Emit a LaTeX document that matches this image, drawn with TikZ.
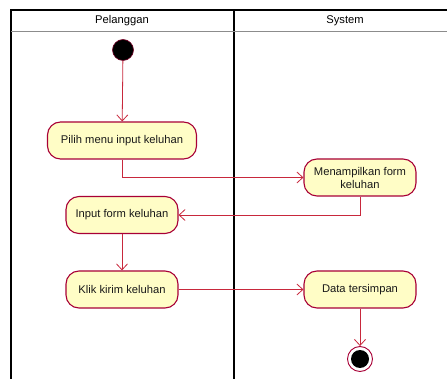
\documentclass[tikz,border=0pt]{standalone}
\usepackage{fontspec}
\setmainfont{Liberation Sans}
\usetikzlibrary{arrows.meta}
\definecolor{actfill}{HTML}{FFFDC6}
\definecolor{actline}{HTML}{A80036}
\definecolor{flow}{HTML}{C8283C}
\tikzset{
  action/.style={draw=actline, fill=actfill, line width=1.1pt, rounded corners=13pt,
    minimum height=37pt, align=center, inner sep=2pt, font=\fontsize{11.2}{13}\selectfont,
    text=black!90},
  flowline/.style={draw=flow, line width=0.8pt, -{Straight Barb[length=6pt,width=11pt,line width=0.8pt]}},
  lanehead/.style={font=\fontsize{11.2}{13}\selectfont, text=black}
}
\begin{document}
\begin{tikzpicture}[x=1pt, y=-1pt]
  \useasboundingbox (0,0) rectangle (447,379);
  % swimlane frame
  \draw[black, line width=1.1pt] (11,379) -- (11,10) -- (447,10);
  \draw[black, line width=1.1pt] (234,10) -- (234,379);
  \draw[black!45, line width=1.6pt] (11,31.5) -- (447,31.5);
  \node[lanehead] (hp) at (122,20.5) {Pelanggan};
  \node[lanehead] (hs) at (345,20.5) {System};
  % start and end
  \node[circle, fill=black, draw=actline!70!black, line width=0.6pt, minimum size=21pt, inner sep=0pt] (start) at (123,50) {};
  \node[circle, draw=actline, fill=white, line width=0.9pt, minimum size=25pt, inner sep=0pt] (stop) at (360,359) {};
  \node[circle, fill=black, minimum size=18pt, inner sep=0pt] (stopdot) at (stop) {};
  % actions
  \node[action, minimum width=149pt] (pilih) at (122,140.5) {Pilih menu input keluhan};
  \node[action, minimum width=112pt] (tampil) at (360,177.5) {Menampilkan form\\keluhan};
  \node[action, minimum width=112pt] (input) at (122,215) {Input form keluhan};
  \node[action, minimum width=112pt] (klik) at (122,289.5) {Klik kirim keluhan};
  \node[action, minimum width=112pt] (simpan) at (360,289.5) {Data tersimpan};
  % flows
  \draw[flowline] (start) -- (pilih);
  \draw[flowline] (pilih.south) |- (tampil.west);
  \draw[flowline] (tampil.south) |- (input.east);
  \draw[flowline] (input) -- (klik);
  \draw[flowline] (klik) -- (simpan);
  \draw[flowline] (simpan) -- (stop);
\end{tikzpicture}
\end{document}
